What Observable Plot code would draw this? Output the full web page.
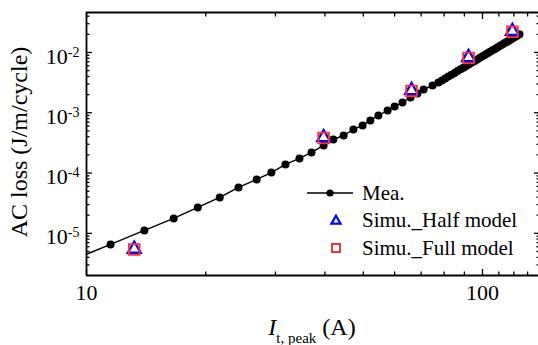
<!DOCTYPE html>
<html><head><meta charset="utf-8">
<script src="https://cdn.jsdelivr.net/npm/d3@7"></script>
<script src="https://cdn.jsdelivr.net/npm/@observablehq/plot@0.6"></script>
<style>
body{margin:0;background:#fff;}
#chart{width:538px;height:345px;}
</style></head><body><div id="chart"></div>
<script>
// Measured AC loss (Mea.)
const meaCurrent = [11.5,14.0,16.6,19.1,21.7,24.2,26.9,29.3,31.8,34.5,37.0,39.7,42.0,44.6,47.2,49.8,52.1,54.6,57.6,60.0,62.8,65.8,68.5,71.0,74.8,77.4,
  79,80.5,82,83.5,85,86.5,88,89.5,91,92.5,94,95.5,97,98.5,100,101.5,103,104.5,106,107.5,109,110.5,112,113.5,115,116.5,118,119.5,121,122.5,124];
const meaLoss = [6.55e-6,1.12e-5,1.77e-5,2.69e-5,3.94e-5,5.77e-5,7.83e-5,1.02e-4,1.39e-4,1.75e-4,2.20e-4,2.87e-4,3.61e-4,4.20e-4,5.29e-4,6.16e-4,7.45e-4,9.02e-4,1.09e-3,1.27e-3,1.48e-3,1.79e-3,2.09e-3,2.43e-3,2.84e-3,3.18e-3,
  3.44e-3,3.71e-3,3.98e-3,4.28e-3,4.58e-3,4.91e-3,5.25e-3,5.60e-3,5.98e-3,6.37e-3,6.79e-3,7.22e-3,7.67e-3,8.14e-3,8.64e-3,9.16e-3,9.69e-3,1.026e-2,1.084e-2,1.145e-2,1.209e-2,1.276e-2,1.344e-2,1.416e-2,1.49e-2,1.567e-2,1.648e-2,1.73e-2,1.816e-2,1.906e-2,2.0e-2];
// where the measured line meets the left axis
const meaLineStartCurrent = 10;
const meaLineStartLoss = 4.5e-6;
// Simulations
const simCurrent = [13.2, 39.7, 66.2, 92.2, 119];
const simHalf = [5.5e-6, 3.9e-4, 2.35e-3, 8.3e-3, 2.25e-2];
const simFull = [5.4e-6, 3.8e-4, 2.3e-3, 8.1e-3, 2.2e-2];
// Axes
const xDomain = [10, 138.5];
const yDomain = [2.0e-6, 4.6e-2];
const xMajor = [10, 100];
const xMinor = [20,30,40,50,60,70,80,90,110,120,130];
const yMajor = [1e-5, 1e-4, 1e-3, 1e-2];
const yMinor = [3e-6,4e-6,5e-6,6e-6,7e-6,8e-6,9e-6,
  2e-5,3e-5,4e-5,5e-5,6e-5,7e-5,8e-5,9e-5,
  2e-4,3e-4,4e-4,5e-4,6e-4,7e-4,8e-4,9e-4,
  2e-3,3e-3,4e-3,5e-3,6e-3,7e-3,8e-3,9e-3,
  2e-2,3e-2,4e-2];
const legendLabels = ["Mea.", "Simu._Half model", "Simu._Full model"];

const mea = meaCurrent.map((c,i)=>({current:c, loss:meaLoss[i]}));
const meaLine = [{current:meaLineStartCurrent, loss:meaLineStartLoss}, ...mea];
const sim = simCurrent.map((c,i)=>({current:c, half:simHalf[i], full:simFull[i]}));

const blue = "#0000ff", red = "#ff3333";
const tickW = 1.3;
const noText = () => "";

const chart = Plot.plot({
  width: 538, height: 345,
  marginLeft: 86, marginRight: 0, marginTop: 12, marginBottom: 70,
  style: {fontFamily: "'Liberation Serif', serif", fontSize: "22px", color: "#000", background: "#fff"},
  x: {type: "log", domain: xDomain},
  y: {type: "log", domain: yDomain},
  marks: [
    // inward ticks
    Plot.axisX(xMajor, {anchor: "bottom", tickSize: -6, strokeWidth: tickW, tickFormat: noText, label: null}),
    Plot.axisX(xMinor, {anchor: "bottom", tickSize: -3.5, strokeWidth: tickW, tickFormat: noText, label: null}),
    Plot.axisX(xMajor, {anchor: "top", tickSize: -6, strokeWidth: tickW, tickFormat: noText, label: null}),
    Plot.axisX(xMinor, {anchor: "top", tickSize: -3.5, strokeWidth: tickW, tickFormat: noText, label: null}),
    Plot.axisY(yMajor, {anchor: "left", tickSize: -6, strokeWidth: tickW, tickFormat: noText, label: null}),
    Plot.axisY(yMinor, {anchor: "left", tickSize: -3.5, strokeWidth: tickW, tickFormat: noText, label: null}),
    Plot.axisY(yMajor, {anchor: "right", tickSize: -5, strokeWidth: tickW, tickFormat: noText, label: null}),
    Plot.axisY(yMinor, {anchor: "right", tickSize: -2.5, strokeWidth: tickW, tickFormat: noText, label: null}),
    // tick labels
    Plot.axisX(xMajor, {anchor: "bottom", tickSize: 0, tickPadding: 9, tickFormat: d => String(d), label: null}),
    Plot.axisY(yMajor, {anchor: "left", tickSize: 0, tickPadding: 7, dy: 4, tickFormat: d => "10^" + Math.round(Math.log10(d)), label: null}),
    // frame (left, bottom, top)
    Plot.ruleX([xDomain[0]], {stroke: "black", strokeWidth: 1.8}),
    Plot.ruleY([yDomain[0], yDomain[1]], {stroke: "black", strokeWidth: 1.8}),
    // data
    Plot.line(meaLine, {x: "current", y: "loss", stroke: "black", strokeWidth: 1.4}),
    Plot.dot(mea, {x: "current", y: "loss", r: 4, fill: "black"}),
    Plot.dot(sim, {x: "current", y: "half", symbol: "triangle", r: 4.8, stroke: blue, strokeWidth: 2.3, fill: "white"}),
    Plot.dot(sim, {x: "current", y: "full", symbol: "square", r: 6, stroke: red, strokeWidth: 1.9, fill: "none"})
  ]
});
document.getElementById("chart").appendChild(chart);

const svg = d3.select(chart);
// superscripts in y tick labels
svg.selectAll("text").each(function(){
  const m = this.textContent.match(/^10\^(-?\d+)$/);
  if (m) {
    const s = d3.select(this);
    s.text("10");
    s.append("tspan").attr("dy", -7).attr("font-size", 14).text(m[1]);
  }
});

// axis titles
svg.append("text")
  .attr("transform", "translate(27,142) rotate(-90)")
  .attr("text-anchor", "middle")
  .attr("font-family", "'Liberation Serif', serif")
  .attr("font-size", 24)
  .attr("fill", "#000")
  .text("AC loss (J/m/cycle)");

const xt = svg.append("text")
  .attr("x", 312).attr("y", 335)
  .attr("text-anchor", "middle")
  .attr("font-family", "'Liberation Serif', serif")
  .attr("font-size", 24)
  .attr("fill", "#000");
xt.append("tspan").attr("font-style", "italic").text("I");
xt.append("tspan").attr("font-size", 15).attr("dy", 8).text("t, peak");
xt.append("tspan").attr("dy", -8).text(" (A)");

// legend
const lg = svg.append("g")
  .attr("font-family", "'Liberation Serif', serif")
  .attr("font-size", 21)
  .attr("text-anchor", "start")
  .attr("fill", "#000");
lg.append("line").attr("x1", 307).attr("x2", 353).attr("y1", 193).attr("y2", 193)
  .attr("stroke", "black").attr("stroke-width", 1.4);
lg.append("circle").attr("cx", 330).attr("cy", 193).attr("r", 3.6).attr("fill", "black");
lg.append("path").attr("d", d3.symbol(d3.symbolTriangle, 36)())
  .attr("transform", "translate(336,221)")
  .attr("fill", "none").attr("stroke", blue).attr("stroke-width", 2.2);
lg.append("rect").attr("x", 332).attr("y", 244).attr("width", 8).attr("height", 8)
  .attr("fill", "none").attr("stroke", red).attr("stroke-width", 2);
[193, 220, 248].forEach((y, i) => {
  lg.append("text").attr("x", 362).attr("y", y).attr("dy", "0.33em")
    .attr("text-anchor", "start").text(legendLabels[i]);
});
</script></body></html>
